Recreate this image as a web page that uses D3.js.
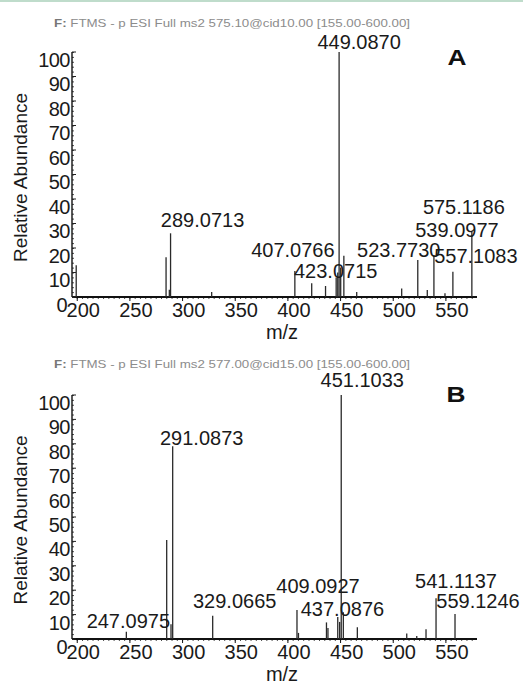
<!DOCTYPE html>
<html><head><meta charset="utf-8">
<script src="https://cdn.jsdelivr.net/npm/d3@7"></script>
<style>
html,body{margin:0;padding:0;background:#fff;}
svg{display:block;}
text{font-family:"Liberation Sans",Arial,sans-serif;}
</style>
</head><body>
<svg id="c" width="523" height="684"></svg>
<script>
// ---------- data ----------
const mzTicks = [200, 250, 300, 350, 400, 450, 500, 550];
const abTicks = [0, 10, 20, 30, 40, 50, 60, 70, 80, 90, 100];
const mzDomain = [195.5, 580];
const abDomain = [0, 100];

const headerA = "FTMS - p ESI Full ms2 575.10@cid10.00  [155.00-600.00]";
const headerB = "FTMS - p ESI Full ms2 577.00@cid15.00  [155.00-600.00]";

// Panel A spectrum (m/z, relative abundance)
const peaksA_mz = [199.5, 284.8, 287.9, 289.0713, 328.1, 407.0766, 423.0715, 436.2, 446.3, 447.8, 449.0870, 450.6, 453.6, 465.8, 508.5, 523.7730, 532.8, 539.0977, 549.6, 557.1083, 575.1186];
const peaksA_ab = [13,    16.2,  3,     26,       2,     10.6,     5.6,      4.5,   8,     10,    100,      12,    16.8,  2,     3.5,   15.1,     2.9,   17.1,     1.5,   10.3,     26.7];
const labelsA = [449.0870, 289.0713, 407.0766, 423.0715, 523.7730, 539.0977, 557.1083, 575.1186];

// Panel B spectrum
const peaksB_mz = [247.0975, 285.4, 289.5, 291.0873, 329.0665, 409.0927, 410.5, 437.0876, 438.5, 447.8, 449.6, 451.1033, 453.1, 466.4, 513.3, 522.8, 531.6, 541.1137, 559.1246];
const peaksB_ab = [3,        40.6,  6,     79,       9.5,      11.9,     2.5,   6.8,      4.5,   9,     7,     100,      11,    4.8,   2.3,   1.2,   4,     16.7,     10.2];
const labelsB = [451.1033, 291.0873, 247.0975, 329.0665, 409.0927, 437.0876, 541.1137, 559.1246];

// ---------- layout (pixels) ----------
const layout = {
  xRange: [72, 477],
  A: {y0: 297, y100: 52, headerY: 27, letter: [457, 65],
      dx: [20, 32, -2, 24, -19, 23, 23, -8], dy: [-3, -6, -14, -5, -3, -18, -9, -18]},
  B: {y0: 639, y100: 395, headerY: 368, letter: [456, 402],
      dx: [21, 29, 2, 22, 21, 16, 20, 23], dy: [-8, -1, -4, -8, -17, -6, -10, -6]}
};

const svg = d3.select("#c");
svg.append("rect").attr("width", 523).attr("height", 684).attr("fill", "#fff");
svg.append("rect").attr("x", 0).attr("y", 0).attr("width", 523).attr("height", 2).attr("fill", "#bfdccb");

const x = d3.scaleLinear().domain(mzDomain).range(layout.xRange);
const fmt = d3.format(".4f");

function panel(key, header, mzs, abs, labels) {
  const L = layout[key];
  const y = d3.scaleLinear().domain(abDomain).range([L.y0, L.y100]);
  const g = svg.append("g");

  // header
  const ht = g.append("text").attr("x", 54).attr("y", L.headerY)
    .attr("font-size", 11.5).attr("fill", "#8c8c8c")
    .attr("textLength", 356).attr("lengthAdjust", "spacingAndGlyphs");
  ht.append("tspan").attr("font-weight", "bold").attr("fill", "#777").text("F: ");
  ht.append("tspan").text(header);

  // panel letter
  g.append("text").attr("x", L.letter[0]).attr("y", L.letter[1])
    .attr("text-anchor", "middle").attr("font-size", 22).attr("font-weight", "bold")
    .attr("fill", "#111").attr("textLength", 19).attr("lengthAdjust", "spacingAndGlyphs")
    .text(key);

  // x axis
  const xMinor = d3.range(200, 580, 5);
  const xa = g.append("g").attr("transform", `translate(0,${L.y0})`)
    .call(d3.axisBottom(x).tickValues(xMinor).tickSize(2).tickFormat(""));
  xa.select(".domain").remove();
  xa.selectAll("line").attr("stroke", "#222").attr("stroke-width", 0.8);
  const xb = g.append("g").attr("transform", `translate(0,${L.y0})`)
    .call(d3.axisBottom(x).tickValues(mzTicks).tickSize(4).tickPadding(5));
  xb.select(".domain").attr("stroke", "#111").attr("stroke-width", 1.8)
    .attr("d", `M${layout.xRange[0]},0H${layout.xRange[1]}`);
  xb.selectAll("line").attr("stroke", "#111");
  xb.selectAll("text").attr("font-size", 20).attr("fill", "#1a1a1a")
    .attr("font-family", '"Liberation Sans",Arial,sans-serif').attr("dx", 6).attr("dy", "0.55em");

  // y axis
  const yMinor = d3.range(0, 101, 2);
  const ya = g.append("g").attr("transform", `translate(${layout.xRange[0]},0)`)
    .call(d3.axisRight(y).tickValues(yMinor).tickSize(2).tickFormat(""));
  ya.select(".domain").remove();
  ya.selectAll("line").attr("stroke", "#222").attr("stroke-width", 0.8);
  const yb = g.append("g").attr("transform", `translate(${layout.xRange[0]},0)`)
    .call(d3.axisLeft(y).tickValues(abTicks).tickSize(0).tickPadding(2));
  yb.select(".domain").attr("stroke", "#111").attr("stroke-width", 1.4)
    .attr("d", `M0,${L.y0}V${L.y100}`);
  yb.selectAll("text").attr("font-size", 20).attr("fill", "#1a1a1a")
    .attr("font-family", '"Liberation Sans",Arial,sans-serif').attr("dy", "0.72em")
    .attr("letter-spacing", "-0.5")
    .attr("dx", d => d === 0 ? -3 : 0);
  g.append("g").attr("transform", `translate(${layout.xRange[0]},0)`)
    .selectAll("line").data(abTicks).join("line")
    .attr("x1", 0).attr("x2", 4).attr("y1", d => y(d)).attr("y2", d => y(d))
    .attr("stroke", "#222").attr("stroke-width", 1);

  // peaks
  const data = mzs.map((m, i) => ({m, a: abs[i]}));
  g.append("g").selectAll("line").data(data).join("line")
    .attr("x1", d => x(d.m)).attr("x2", d => x(d.m))
    .attr("y1", y(0)).attr("y2", d => y(d.a))
    .attr("stroke", "#2a2a2a").attr("stroke-width", 1.3);

  // peak labels
  const lab = labels.map((m, i) => {
    const j = mzs.indexOf(m);
    return {m, a: abs[j], dx: L.dx[i], dy: L.dy[i]};
  });
  g.append("g").selectAll("text").data(lab).join("text")
    .attr("x", d => x(d.m) + d.dx).attr("y", d => y(d.a) + d.dy)
    .attr("text-anchor", "middle").attr("font-size", 20).attr("fill", "#1a1a1a")
    .text(d => fmt(d.m));

  // axis titles
  const cy = (L.y0 + L.y100) / 2 + 3;
  g.append("text").attr("transform", `translate(27,${cy}) rotate(-90)`)
    .attr("text-anchor", "middle").attr("font-size", 19).attr("fill", "#1a1a1a")
    .text("Relative Abundance");
  g.append("text").attr("x", 282).attr("y", L.y0 + 42)
    .attr("text-anchor", "middle").attr("font-size", 20).attr("fill", "#1a1a1a")
    .text("m/z");
}

panel("A", headerA, peaksA_mz, peaksA_ab, labelsA);
panel("B", headerB, peaksB_mz, peaksB_ab, labelsB);
</script>
</body></html>
